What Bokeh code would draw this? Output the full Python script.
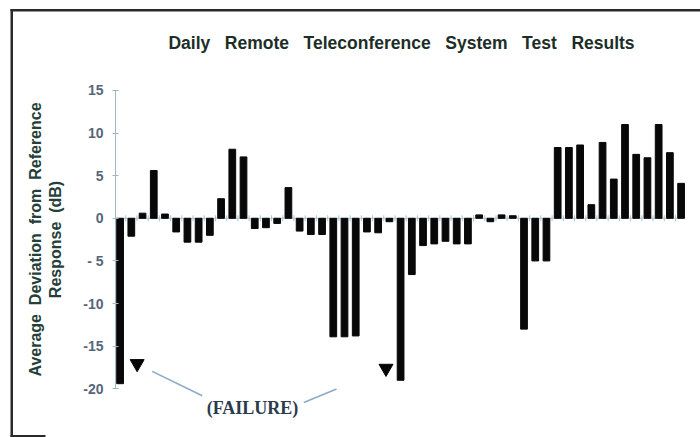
from bokeh.plotting import figure
from bokeh.models import Range1d, FixedTicker, Label, ColumnDataSource
from bokeh.embed import file_html
from bokeh.resources import INLINE

# ---- data ----
days = list(range(1, 52))
deviation_db = [-19.4, -2.1, 0.6, 5.6, 0.5, -1.6, -2.8, -2.8, -2.0, 2.3,
                8.1, 7.2, -1.2, -1.1, -0.6, 3.6, -1.5, -1.9, -1.9, -13.9,
                -13.9, -13.8, -1.6, -1.7, -0.4, -19.0, -6.6, -3.2, -3.0, -2.7,
                -3.0, -3.0, 0.4, -0.4, 0.4, 0.3, -13.0, -5.0, -5.0, 8.3,
                8.3, 8.6, 1.6, 8.9, 4.6, 11.0, 7.5, 7.1, 11.0, 7.7, 4.1]
y_ticks = [-20, -15, -10, -5, 0, 5, 10, 15]
y_tick_labels = ["-20", "-15", "-10", "- 5", "0", "5", "10", "15"]
title_words = ["Daily", "Remote", "Teleconference", "System", "Test", "Results"]
y_label_lines = [["Average", "Deviation", "from", "Reference"], ["Response", "(dB)"]]
title_text = "\u00a0\u00a0\u00a0".join(title_words)
y_label = "\n".join("\u00a0\u00a0".join(line) for line in y_label_lines)

# failure annotation (day units, dB)
failure_marker_x = [2.52, 24.7]
failure_marker_y = [-17.05, -17.6]
leader_x0 = [3.86, 17.37]
leader_y0 = [-17.96, -21.6]
leader_x1 = [8.32, 20.29]
leader_y1 = [-20.81, -20.02]
failure_text = "(FAILURE)"
failure_text_x = 12.8
failure_text_y = -22.2

W, H = 700, 437
PX_PER_DAY = 11.22
PX_PER_DB = 8.525
DAY1_PX = 119.6      # canvas x of day 1
ZERO_PX = 217.8      # canvas y of 0 dB


def cx(px):
    return 1 + (px - DAY1_PX) / PX_PER_DAY


def cy(py):
    return (ZERO_PX - py) / PX_PER_DB


FONT = "Liberation Sans"

p = figure(width=W, height=H, output_backend="svg", toolbar_location=None,
           title=None, x_axis_location=None,
           x_range=Range1d(cx(0), cx(W)), y_range=Range1d(cy(H), cy(0)),
           min_border_left=0, min_border_right=0, min_border_top=0,
           min_border_bottom=0)
p.outline_line_color = None
p.grid.visible = False
p.background_fill_color = "white"
p.border_fill_color = "white"

axis_x = cx(115)

# y axis drawn inside the full-canvas frame
ya = p.yaxis[0]
ya.fixed_location = axis_x
ya.bounds = (y_ticks[0], y_ticks[-1])
ya.ticker = FixedTicker(ticks=y_ticks)
ya.major_label_overrides = dict(zip(y_ticks, y_tick_labels))
ya.axis_line_color = "#a3b6c6"
ya.major_tick_line_color = "#a3b6c6"
ya.major_tick_in = 3
ya.major_tick_out = 3
ya.minor_tick_line_color = None
ya.major_label_text_font = FONT
ya.major_label_text_font_style = "bold"
ya.major_label_text_font_size = "14px"
ya.major_label_text_color = "#56667a"
ya.major_label_standoff = 9
ya.axis_label = y_label
ya.axis_label_text_font = FONT
ya.axis_label_text_font_style = "bold"
ya.axis_label_text_font_size = "16px"
ya.axis_label_text_color = "#24403a"
ya.axis_label_standoff = 16

# zero line with small day ticks
p.segment(x0=[axis_x], y0=[0], x1=[days[-1] + 0.3], y1=[0],
          line_color="#a8c4d4", line_width=1)
tick_x = [d + 0.5 for d in days[:-1]]
p.segment(x0=tick_x, y0=[-0.35] * len(tick_x), x1=tick_x, y1=[0.35] * len(tick_x),
          line_color="#a8c4d4", line_width=1)

src = ColumnDataSource(dict(day=days, dev=deviation_db))
p.vbar(x="day", top="dev", bottom=0, width=0.6, color="#080808", source=src)

p.segment(x0=leader_x0, y0=leader_y0, x1=leader_x1, y1=leader_y1,
          line_color="#8aaac8", line_width=1.5)
p.scatter(x=failure_marker_x, y=failure_marker_y, marker="inverted_triangle",
          size=14, color="#050505")
p.add_layout(Label(x=failure_text_x, y=failure_text_y, text=failure_text,
                   text_font="Liberation Serif", text_font_style="bold",
                   text_font_size="18px", text_color="#2b3b4e",
                   text_align="center", text_baseline="middle"))

# title
p.add_layout(Label(x=cx(401), y=cy(42), text=title_text,
                   text_font=FONT, text_font_style="bold",
                   text_font_size="17.5px", text_color="#1c2e27",
                   text_align="center", text_baseline="middle"))

# scanned page frame lines
p.quad(left=[cx(10), cx(10), cx(10)], right=[cx(W), cx(12.5), cx(45)],
       top=[cy(8.5), cy(8.5), cy(434.5)], bottom=[cy(11), cy(H), cy(436.5)],
       fill_color="#2a2a2a", line_color=None)

open("out.html", "w").write(file_html(p, INLINE))
